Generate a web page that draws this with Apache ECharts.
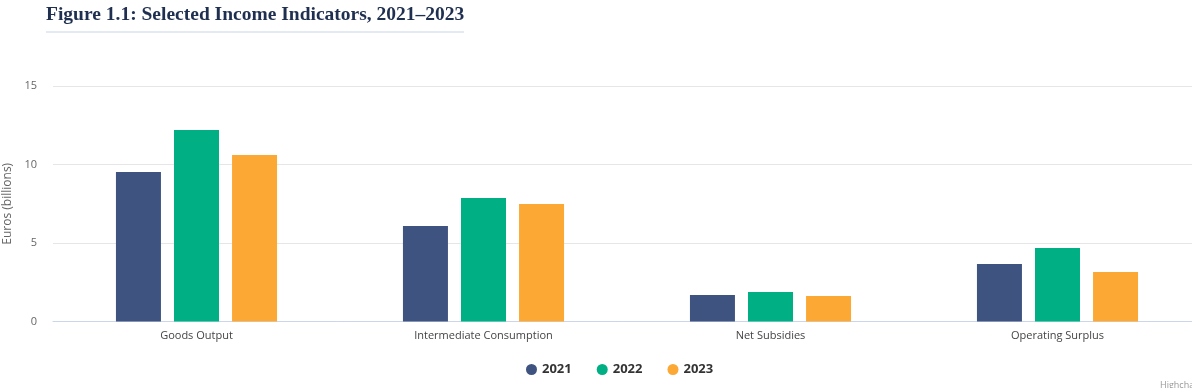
<!DOCTYPE html>
<html>
<head>
<meta charset="utf-8">
<script src="https://cdn.jsdelivr.net/npm/echarts@6/dist/echarts.min.js"></script>
<style>
html,body{margin:0;padding:0;background:#fff;}
#c{width:1192px;height:388px;}
</style>
</head>
<body>
<div id="c"></div>
<script>
const categories = ['Goods Output', 'Intermediate Consumption', 'Net Subsidies', 'Operating Surplus'];
const years = ['2021', '2022', '2023'];
const values2021 = [9.52, 6.08, 1.69, 3.66];
const values2022 = [12.2, 7.87, 1.88, 4.68];
const values2023 = [10.6, 7.48, 1.62, 3.15];
const yTicks = [0, 5, 10, 15];
const colors = ['#3f5380', '#00af84', '#fba834'];

const seriesValues = [values2021, values2022, values2023];
const chart = echarts.init(document.getElementById('c'));
chart.setOption({
  animation: false,
  color: colors,
  title: {
    text: 'Figure 1.1: Selected Income Indicators, 2021–2023',
    left: 46, top: 5, padding: 0,
    textStyle: {fontFamily: 'Liberation Serif', fontWeight: 'bold', fontSize: 19.5, color: '#1f2f50'}
  },
  graphic: [
    {type: 'line', shape: {x1: 46, y1: 32, x2: 464, y2: 32}, style: {stroke: '#c8d5e3', lineWidth: 1}},
    {type: 'text', left: 1160, top: 381, style: {text: 'Highcharts.com', fill: '#999', fontSize: 9, fontFamily: 'Open Sans'}}
  ],
  legend: {
    left: 526, top: 363, padding: 0,
    itemWidth: 11, itemHeight: 11, itemGap: 25,
    icon: 'circle',
    textStyle: {fontFamily: 'Open Sans', fontWeight: 'bold', fontSize: 13, color: '#333'},
    data: years
  },
  grid: {left: 53, top: 86, width: 1148, height: 235.5, outerBoundsMode: 'none'},
  xAxis: {
    type: 'category',
    data: categories,
    axisLine: {lineStyle: {color: '#ccd6eb'}},
    axisTick: {show: false},
    axisLabel: {fontFamily: 'Open Sans', fontSize: 11, color: '#444', margin: 9}
  },
  yAxis: {
    type: 'value',
    min: yTicks[0], max: yTicks[yTicks.length - 1], interval: 5,
    name: 'Euros (billions)',
    nameLocation: 'middle', nameGap: 36,
    nameTextStyle: {fontFamily: 'Open Sans', fontSize: 12, color: '#666'},
    axisLine: {show: false},
    axisTick: {show: false},
    splitLine: {lineStyle: {color: '#e6e6e6'}},
    axisLabel: {fontFamily: 'Open Sans', fontSize: 11, color: '#666', margin: 16}
  },
  series: years.map((y, i) => ({
    name: y,
    type: 'bar',
    data: seriesValues[i],
    barWidth: 45,
    barGap: '29%'
  }))
});
</script>
</body>
</html>
